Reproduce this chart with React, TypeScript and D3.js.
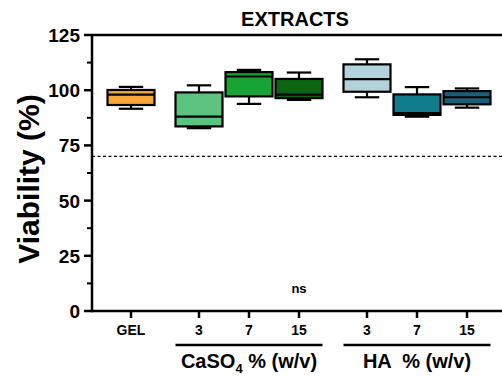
import * as d3 from "d3";
import React from "react";

// categories and their group (0 = control, 1 = CaSO4, 2 = HA)
const labels = ["GEL", "3", "7", "15", "3", "7", "15"];
const groups = [0, 1, 1, 1, 2, 2, 2];
const colors = ["#f9a53a", "#5cc47e", "#17a336", "#0a6410", "#b3d2da", "#117d8c", "#175f7a"];

// box stats (viability %)
const mins = [91.6, 82.8, 93.8, 95.6, 96.8, 88.0, 92.1];
const q1s = [93.3, 83.6, 97.2, 96.4, 99.3, 88.8, 93.6];
const medians = [98.0, 88.0, 106.2, 98.0, 105.0, 89.6, 96.8];
const q3s = [100.1, 99.0, 108.2, 105.1, 111.7, 98.1, 99.6];
const maxs = [101.5, 102.2, 109.2, 108.0, 114.0, 101.4, 100.8];

const yTicks = [0, 25, 50, 75, 100, 125];
const threshold = 70;

const W = 502, H = 376;
const margin = { top: 35, right: 0, bottom: 65, left: 92 };
const groupGap = 0.36;

const App = () => {
  const y = d3.scaleLinear().domain([0, 125]).range([H - margin.bottom, margin.top]);
  const slots = labels.map((_, i) => i + groups[i] * groupGap);
  const x = d3.scaleLinear().domain([0, 1]).range([131, 181]);
  const step = x(1) - x(0);
  const boxW = step * 0.94;
  const capW = boxW * 0.52;
  const font = "Arial, 'Liberation Sans', sans-serif";
  const minorTicks = d3.range(12.5, 125, 25);
  const y0 = y(0);

  const groupSpan = (g: number) => {
    const idx = slots.filter((_, i) => groups[i] === g);
    return [x(d3.min(idx)!) - boxW / 2, x(d3.max(idx)!) + boxW / 2];
  };
  const ca = groupSpan(1), ha = groupSpan(2);

  return (
    <svg width={W} height={H} style={{ position: "absolute", left: 0, top: 0 }} fontFamily={font}>
      <text x={295} y={26} textAnchor="middle" fontSize={20} fontWeight="bold">EXTRACTS</text>

      {/* threshold line */}
      <line x1={margin.left} x2={W} y1={y(threshold)} y2={y(threshold)} stroke="#000" strokeWidth={1.3} strokeDasharray="3,2.5" />

      {/* boxes */}
      {labels.map((_, i) => {
        const cx = x(slots[i]);
        return (
          <g key={i} stroke="#000" strokeWidth={2.2}>
            <line x1={cx} x2={cx} y1={y(maxs[i])} y2={y(q3s[i])} />
            <line x1={cx} x2={cx} y1={y(q1s[i])} y2={y(mins[i])} />
            <line x1={cx - capW / 2} x2={cx + capW / 2} y1={y(maxs[i])} y2={y(maxs[i])} />
            <line x1={cx - capW / 2} x2={cx + capW / 2} y1={y(mins[i])} y2={y(mins[i])} />
            <rect x={cx - boxW / 2} width={boxW} y={y(q3s[i])} height={y(q1s[i]) - y(q3s[i])} fill={colors[i]} />
            <line x1={cx - boxW / 2} x2={cx + boxW / 2} y1={y(medians[i])} y2={y(medians[i])} />
          </g>
        );
      })}

      {/* axes */}
      <g stroke="#000" strokeWidth={2.5}>
        <line x1={margin.left} x2={margin.left} y1={margin.top} y2={y0 + 1.2} />
        <line x1={margin.left} x2={W} y1={y0} y2={y0} />
        <line x1={margin.left} x2={W} y1={margin.top} y2={margin.top} />
      </g>
      {yTicks.map(t => (
        <g key={t}>
          <line x1={margin.left - 8} x2={margin.left} y1={y(t)} y2={y(t)} stroke="#000" strokeWidth={2.5} />
          <text x={80} y={y(t) + 7} textAnchor="end" fontSize={19} fontWeight="bold">{t}</text>
        </g>
      ))}
      {minorTicks.map(t => (
        <line key={t} x1={margin.left - 5} x2={margin.left} y1={y(t)} y2={y(t)} stroke="#000" strokeWidth={2} />
      ))}
      {labels.map((l, i) => (
        <g key={i}>
          <line x1={x(slots[i])} x2={x(slots[i])} y1={y0} y2={y0 + 7} stroke="#000" strokeWidth={2.5} />
          <text x={x(slots[i])} y={335} textAnchor="middle" fontSize={14} fontWeight="bold">{l}</text>
        </g>
      ))}

      <text x={x(slots[3])} y={293} textAnchor="middle" fontSize={13} fontWeight="bold">ns</text>

      {/* group brackets */}
      <line x1={ca[0]} x2={ca[1]} y1={345} y2={345} stroke="#000" strokeWidth={2.5} />
      <line x1={ha[0]} x2={ha[1]} y1={345} y2={345} stroke="#000" strokeWidth={2.5} />
      <text x={(ca[0] + ca[1]) / 2} y={368} textAnchor="middle" fontSize={20} fontWeight="bold">
        CaSO<tspan fontSize={13} dy={5}>4</tspan><tspan dy={-5}> % (w/v)</tspan>
      </text>
      <text x={(ha[0] + ha[1]) / 2} y={368} textAnchor="middle" fontSize={20} fontWeight="bold" xmlSpace="preserve">HA  % (w/v)</text>

      <text transform={`translate(39,${(margin.top + y0) / 2 + 6}) rotate(-90)`} textAnchor="middle" fontSize={30} fontWeight="bold">Viability (%)</text>
    </svg>
  );
};

export default App;
